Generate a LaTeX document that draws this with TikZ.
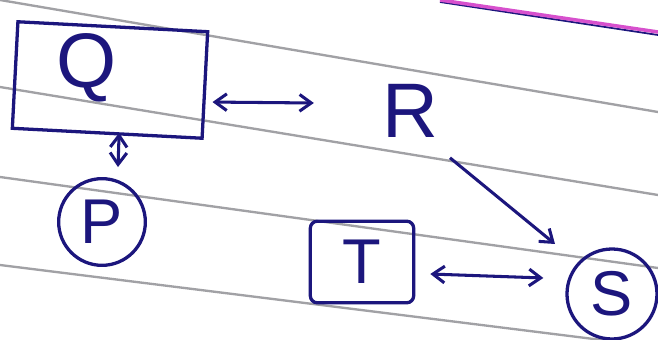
\documentclass[tikz,border=0pt]{standalone}
\usepackage{fontspec}
\setmainfont{Liberation Sans}
\usepackage{tikz}
\usetikzlibrary{positioning,arrows.meta,calc}
\definecolor{inkblue}{RGB}{28,22,125}
\definecolor{paperline}{RGB}{130,130,135}
\definecolor{marginpink}{RGB}{215,80,205}
\tikzset{
  letter/.style={text=inkblue, inner sep=0pt, font=\fontsize{66}{66}\selectfont},
  smallletter/.style={letter, font=\fontsize{54}{54}\selectfont},
  framebox/.style={draw=inkblue, line width=2.8pt, minimum width=5.7cm,
    minimum height=3.2cm},
  tagbox/.style={draw=inkblue, line width=2.8pt, rounded corners=6pt,
    minimum width=3.1cm, minimum height=2.45cm, inner sep=0pt},
  ring/.style={draw=inkblue, line width=2.8pt, circle, inner sep=0pt},
  link/.style={-{Straight Barb[length=3.5mm,width=5mm]}, line width=2.6pt, draw=inkblue},
  twoway/.style={link, {Straight Barb[length=3.5mm,width=5mm]}-{Straight Barb[length=3.5mm,width=5mm]}},
  rule/.style={draw=paperline, line width=2pt, opacity=0.75},
}
\begin{document}
\begin{tikzpicture}[x=0.03cm,y=-0.03cm]
\useasboundingbox (0,0) rectangle (658,340);
\fill[white] (0,0) rectangle (658,340);
% ruled paper behind the sketch
\draw[rule] (0,0) -- (658,112);
\draw[rule] (0,87) -- (658,195);
\draw[rule] (0,177) -- (658,268);
\draw[rule] (0,265) -- (658,347);
\draw[inkblue, line width=1.5pt] (440,2) -- (658,35);
\draw[marginpink, line width=3pt] (440,0) -- (658,32);
\node[framebox, rotate=-3] (qbox) at (110,80) {};
\node[letter] (Q) at (87,68) {Q};
\node[letter] (R) at (410,111) {R};
\node[ring, minimum size=2.6cm] (P) at (102,222) {};
\node[smallletter] at (P) {P};
\node[tagbox] (T) at (362,262) {};
\node[smallletter] (tl) at (T) {T};
\node[ring, minimum size=2.7cm] (S) at (612,294) {};
\node[smallletter] at (S) {S};
\draw[twoway] ([shift={(6,17)}]qbox.east) -- ([shift={(-68,-8)}]R.west);
\draw[twoway] ($(qbox.south)+(12,-2)$) -- ($(P.north)+(16,-10)$);
\draw[link] ([shift={(40,20)}]R.south) -- ([shift={(-57,-50)}]S.center);
\draw[twoway] ([shift={(15,12)}]T.east) -- ([shift={(-22,-16)}]S.west);
\end{tikzpicture}
\end{document}
